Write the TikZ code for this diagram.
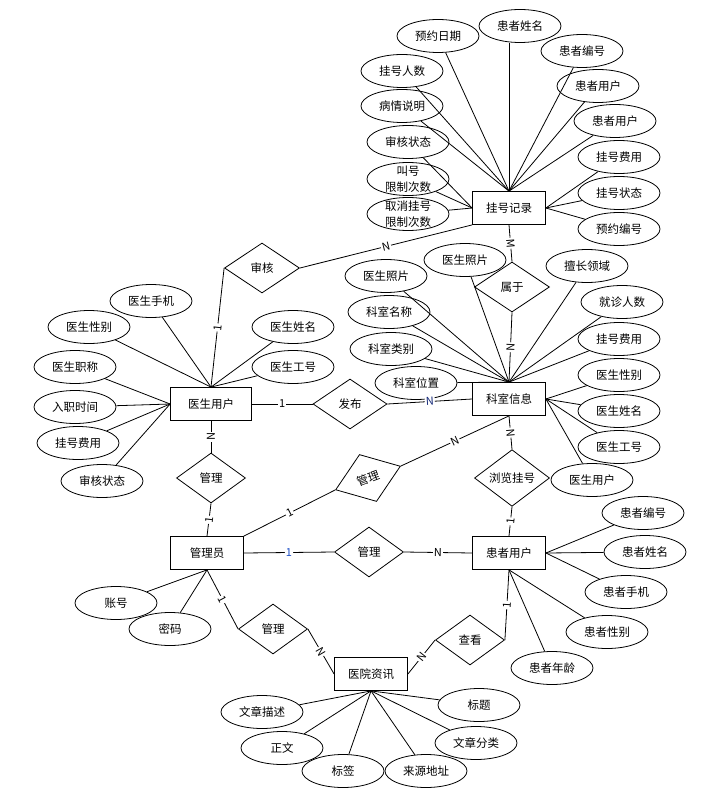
\documentclass[tikz,border=0pt]{standalone}
\usepackage{fontspec}
\setmainfont{Noto Sans CJK SC}
\usetikzlibrary{shapes.geometric}

\definecolor{cardblue}{RGB}{30,80,200}
\definecolor{cardnavy}{RGB}{20,40,120}

\tikzset{
  attr/.style={draw, ellipse, minimum width=82pt, minimum height=33pt, inner sep=0pt,
    align=center, font=\fontsize{11.5}{16}\selectfont},
  attrtwo/.style={attr, inner ysep=-10pt},
  entity/.style={draw, rectangle, minimum width=73pt, minimum height=33pt, inner sep=0pt,
    font=\fontsize{11.5}{14}\selectfont},
  rel/.style={draw, diamond, minimum width=69pt, minimum height=50pt, inner sep=0pt,
    font=\fontsize{11.5}{14}\selectfont},
  card/.style={midway, sloped, fill=white, inner sep=1pt, font=\fontsize{11}{13}\selectfont},
  every path/.style={line width=0.8pt},
}

\begin{document}
\begin{tikzpicture}[x=1pt, y=-1pt]
\useasboundingbox (0,0) rectangle (710,802);

% entities
\node[entity] (reg) at (509,208) {挂号记录};
\node[entity] (dept) at (509,399) {科室信息};
\node[entity, minimum width=81pt] (doc) at (211,404) {医生用户};
\node[entity] (admin) at (207,553) {管理员};
\node[entity] (pat) at (509,553) {患者用户};
\node[entity] (news) at (371,674) {医院资讯};

% relations
\node[rel, minimum width=75pt] (shenhe) at (262,268) {审核};
\node[rel, minimum width=75pt] (shuyu) at (512,287) {属于};
\node[rel, minimum width=74pt] (fabu) at (350,404) {发布};
\node[rel] (glA) at (211,478) {管理};
\node[rel, rotate=20] (glB) at (368,478) {管理};
\node[rel] (glC) at (369,552) {管理};
\node[rel, minimum width=75pt] (liulan) at (512,478) {浏览挂号};
\node[rel] (glD) at (273,629) {管理};
\node[rel] (chakan) at (470,640) {查看};

% attributes of 挂号记录
\node[attr] (rDate) at (438,36) {预约日期};
\node[attr] (rName) at (520,26) {患者姓名};
\node[attr] (rPno) at (582,51) {患者编号};
\node[attr] (rNum) at (402,71) {挂号人数};
\node[attr] (rUserA) at (598,86) {患者用户};
\node[attr] (rDesc) at (402,106) {病情说明};
\node[attr] (rUserB) at (615,121) {患者用户};
\node[attr] (rCheck) at (408,142) {审核状态};
\node[attr] (rFee) at (619,157) {挂号费用};
\node[attrtwo] (rCall) at (408,179) {叫号\\限制次数};
\node[attr] (rState) at (619,193) {挂号状态};
\node[attrtwo] (rCancel) at (408,214) {取消挂号\\限制次数};
\node[attr] (rNo) at (619,229) {预约编号};

% attributes of 科室信息
\node[attr] (dPhotoA) at (465,260) {医生照片};
\node[attr] (dPhotoB) at (386,276) {医生照片};
\node[attr] (dField) at (587,266) {擅长领域};
\node[attr] (dName) at (389,312) {科室名称};
\node[attr] (dVisit) at (622,302) {就诊人数};
\node[attr] (dType) at (391,349) {科室类别};
\node[attr] (dFee) at (619,339) {挂号费用};
\node[attr] (dPlace) at (416,383) {科室位置};
\node[attr] (dSex) at (619,375) {医生性别};
\node[attr] (dDoc) at (619,411) {医生姓名};
\node[attr] (dId) at (619,447) {医生工号};
\node[attr] (dUser) at (592,480) {医生用户};

% attributes of 医生用户
\node[attr] (oPhone) at (151,301) {医生手机};
\node[attr] (oSex) at (89,327) {医生性别};
\node[attr] (oName) at (293,327) {医生姓名};
\node[attr] (oTitle) at (75,367) {医生职称};
\node[attr] (oId) at (293,367) {医生工号};
\node[attr] (oJoin) at (75,407) {入职时间};
\node[attr] (oFee) at (78,443) {挂号费用};
\node[attr] (oCheck) at (102,481) {审核状态};

% attributes of 管理员
\node[attr] (aAcc) at (116,603) {账号};
\node[attr] (aPwd) at (170,629) {密码};

% attributes of 患者用户
\node[attr] (pNo) at (643,513) {患者编号};
\node[attr] (pName) at (645,552) {患者姓名};
\node[attr] (pPhone) at (626,592) {患者手机};
\node[attr] (pSex) at (607,632) {患者性别};
\node[attr] (pAge) at (552,668) {患者年龄};

% attributes of 医院资讯
\node[attr] (nDesc) at (262,712) {文章描述};
\node[attr] (nTitle) at (479,705) {标题};
\node[attr] (nText) at (282,748) {正文};
\node[attr] (nCat) at (476,743) {文章分类};
\node[attr] (nTag) at (343,771) {标签};
\node[attr] (nSrc) at (426,771) {来源地址};

% attribute lines
\draw (rDate) -- (reg.north);
\draw (reg.north) -- (reg.north |- rName.south);
\draw (rPno) -- (reg.north);
\draw (rNum) -- (reg.north);
\draw (rUserA) -- (reg.north);
\draw (rDesc) -- (reg.north);
\draw (rUserB) -- (reg.north);
\draw (rCheck) -- (reg.west);
\draw (rCall) -- (reg.west);
\draw (rCancel) -- (reg.west);
\draw (rFee) -- (reg.east);
\draw (rState) -- (reg.east);
\draw (rNo) -- (reg.east);

\draw (dPhotoA) -- (dept.north);
\draw (dPhotoB) -- (dept.north);
\draw (dField) -- (dept.north);
\draw (dName) -- (dept.north);
\draw (dVisit) -- (dept.north);
\draw (dType) -- (dept.north);
\draw (dFee) -- (dept.north);
\draw (dPlace) -- (dept.north);
\draw (dSex) -- (dept.east);
\draw (dDoc) -- (dept.east);
\draw (dId) -- (dept.east);
\draw (dUser) -- (dept.east);

\draw (oPhone) -- (doc.north);
\draw (oSex) -- (doc.north);
\draw (oName) -- (doc.north);
\draw (oId) -- (doc.north);
\draw (oTitle) -- (doc.west);
\draw (oJoin) -- (doc.west);
\draw (oFee) -- (doc.west);
\draw (oCheck) -- (doc.west);

\draw (aAcc) -- (admin.south);
\draw (aPwd) -- (admin.south);

\draw (pNo) -- (pat.east);
\draw (pName) -- (pat.east);
\draw (pPhone) -- (pat.east);
\draw (pSex) -- (pat.south);
\draw (pAge) -- (pat.south);

\draw (nDesc) -- (news.south);
\draw (nTitle) -- (news.south);
\draw (nText) -- (news.south);
\draw (nCat) -- (news.south);
\draw (nTag) -- (news.south);
\draw (nSrc) -- (news.south);

% relation lines
\draw (doc.north) -- node[card] {1} (shenhe.west);
\draw (shenhe.east) -- node[card] {N} (reg.south west);
\draw (reg.south) -- node[card] {M} (shuyu.north);
\draw (shuyu.south) -- node[card] {N} (dept.north);
\draw (doc.east) -- node[card] {1} (fabu.west);
\draw (fabu.east) -- node[card, text=cardnavy] {N} (dept.west);
\draw (doc.south) -- node[card] {N} (glA.north);
\draw (glA.south) -- node[card] {1} (admin.north);
\draw (admin.north east) -- node[card] {1} (glB.west);
\draw (glB.east) -- node[card] {N} (dept.south);
\draw (dept.south) -- node[card] {N} (liulan.north);
\draw (liulan.south) -- node[card] {1} (pat.north);
\draw (admin.east) -- node[card, text=cardblue] {1} (glC.west);
\draw (glC.east) -- node[card] {N} (pat.west);
\draw (admin.south) -- node[card] {1} (glD.west);
\draw (glD.east) -- node[card] {N} (news.west);
\draw (news.east) -- node[card] {N} (chakan.west);
\draw (chakan.east) -- node[card] {1} (pat.south);

\end{tikzpicture}
\end{document}
